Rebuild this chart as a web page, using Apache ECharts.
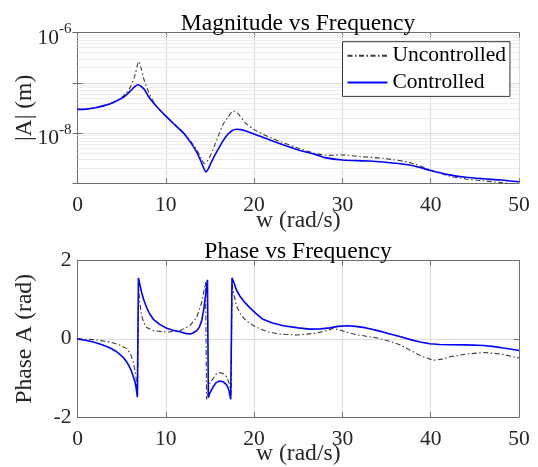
<!DOCTYPE html>
<html>
<head>
<meta charset="utf-8">
<script src="https://cdn.jsdelivr.net/npm/echarts@6/dist/echarts.min.js"></script>
<style>html,body{margin:0;padding:0;background:#fff;}#c{width:538px;height:467px;}</style>
</head>
<body>
<div id="c"></div>
<script>
// ---- data ----
const seriesNames = ['Uncontrolled', 'Controlled'];
const xTicks = [0, 10, 20, 30, 40, 50];
const magYTickLabels = ['10^-6', '10^-8'];
const phaseYTicks = [-2, 0, 2];

const magUncontrolled = [
  [0, 2.95e-8], [1, 2.99e-8], [2, 3.18e-8], [3, 3.51e-8], [4, 4.05e-8], [5, 5.1e-8],
  [5.5, 6.2e-8], [6, 8.3e-8], [6.5, 1.4e-7], [6.8, 2.3e-7], [6.95, 2.65e-7], [7.2, 1.95e-7],
  [7.5, 1.2e-7], [8, 6.9e-8], [8.5, 4.5e-8], [9, 3.35e-8], [10, 2.17e-8], [11, 1.48e-8],
  [12, 1.02e-8], [13, 6.2e-9], [13.5, 4.6e-9], [14, 3.2e-9], [14.33, 2.48e-9], [14.6, 2.6e-9],
  [15, 3.4e-9], [15.5, 5.5e-9], [16, 9.3e-9], [16.5, 1.5e-8], [17, 2.0e-8], [17.65, 2.75e-8],
  [18.2, 2.4e-8], [19, 1.6e-8], [20, 1.17e-8], [22, 7.9e-9], [25, 5.0e-9], [27, 3.9e-9],
  [28.5, 3.6e-9], [30, 3.66e-9], [32, 3.4e-9], [34.6, 3.14e-9], [37.7, 2.57e-9], [40, 1.83e-9],
  [42, 1.41e-9], [44, 1.22e-9], [46, 1.12e-9], [48, 1.03e-9], [50, 9.3e-10]
];
const magControlled = [
  [0, 2.95e-8], [1, 2.99e-8], [2, 3.18e-8], [3, 3.51e-8], [4, 4.02e-8], [5, 4.91e-8],
  [5.5, 5.69e-8], [6, 6.9e-8], [6.5, 8.41e-8], [6.85, 9.16e-8], [7.2, 8.51e-8], [7.6, 7.24e-8],
  [8, 5.47e-8], [8.5, 4.17e-8], [9, 3.29e-8], [10, 2.17e-8], [11, 1.47e-8], [12, 1.0e-8],
  [13, 5.82e-9], [13.5, 4.17e-9], [14, 2.69e-9], [14.3, 2.0e-9], [14.55, 1.69e-9], [14.8, 1.91e-9],
  [15, 2.29e-9], [15.5, 3.47e-9], [16, 5.01e-9], [16.5, 7.08e-9], [17, 9.33e-9], [17.5, 1.11e-8],
  [18, 1.19e-8], [18.5, 1.17e-8], [19, 1.11e-8], [20, 9.55e-9], [22, 7.01e-9], [25, 4.62e-9],
  [27, 3.72e-9], [28, 3.24e-9], [30, 2.91e-9], [33, 2.77e-9], [36, 2.51e-9], [38, 2.24e-9],
  [40, 1.8e-9], [42, 1.49e-9], [44, 1.32e-9], [46, 1.23e-9], [48, 1.16e-9], [50, 1.07e-9]
];
const phaseUncontrolled = [
  [0, 0], [1.8, -0.02], [3.7, -0.08], [4.8, -0.16], [5.57, -0.25], [6.0, -0.38], [6.3, -0.59],
  [6.5, -0.8], [6.6, -0.93], [6.72, -1.2], [6.8, -1.43], [6.92, 1.25], [7.05, 0.95], [7.27, 0.59],
  [7.5, 0.42], [7.83, 0.29], [8.6, 0.21], [10.1, 0.17], [11.6, 0.21], [12.74, 0.34], [13.5, 0.55],
  [14.06, 0.93], [14.3, 1.2], [14.5, 1.45], [14.62, -1.55], [14.8, -1.3], [15.0, -1.12],
  [15.38, -1.01], [15.7, -0.9], [16.1, -0.86], [16.5, -0.89], [16.9, -0.97], [17.2, -1.15],
  [17.4, -1.43], [17.5, 1.4], [17.7, 1.15], [18.0, 0.84], [18.5, 0.62], [19.1, 0.46], [20.0, 0.33],
  [20.7, 0.25], [21.7, 0.17], [23.0, 0.12], [24.8, 0.1], [26.0, 0.12], [27.1, 0.15], [28.2, 0.21],
  [29.0, 0.27], [29.8, 0.22], [30.5, 0.17], [31.5, 0.11], [32.7, 0.067], [34.0, 0.02],
  [35.4, -0.067], [36.5, -0.15], [37.7, -0.295], [39.0, -0.45], [40.3, -0.547], [41.3, -0.52],
  [42.2, -0.46], [44.0, -0.39], [46.0, -0.35], [47.2, -0.37], [48.2, -0.4], [49.2, -0.45], [50, -0.49]
];
const phaseControlled = [
  [0, 0], [1, -0.04], [1.8, -0.08], [2.8, -0.15], [3.7, -0.235], [4.3, -0.31], [4.8, -0.4],
  [5.2, -0.48], [5.57, -0.59], [5.9, -0.72], [6.13, -0.84], [6.35, -0.99], [6.5, -1.09],
  [6.65, -1.27], [6.78, -1.49], [6.9, 1.56], [7.0, 1.45], [7.27, 1.18], [7.5, 1.0], [7.83, 0.8],
  [8.2, 0.63], [8.59, 0.5], [9.3, 0.37], [10.1, 0.27], [10.8, 0.22], [11.6, 0.18], [12.2, 0.14],
  [12.74, 0.126], [13.1, 0.15], [13.5, 0.21], [13.8, 0.3], [14.06, 0.46], [14.3, 0.75], [14.44, 1.0],
  [14.6, 1.3], [14.72, 1.51], [14.82, -1.51], [14.95, -1.4], [15.38, -1.22], [15.7, -1.12],
  [16.1, -1.08], [16.5, -1.1], [16.9, -1.18], [17.15, -1.32], [17.35, -1.55], [17.5, 1.56],
  [17.7, 1.45], [18.0, 1.25], [18.4, 1.09], [19.0, 0.92], [19.5, 0.8], [20.2, 0.65], [21.0, 0.5],
  [22.0, 0.41], [23.3, 0.335], [25.0, 0.28], [26.3, 0.25], [27.5, 0.255], [28.6, 0.28], [29.5, 0.32],
  [30.5, 0.335], [31.5, 0.32], [32.7, 0.28], [34.0, 0.21], [35.4, 0.126], [36.5, 0.06], [37.7, -0.02],
  [38.8, -0.08], [39.9, -0.126], [41.0, -0.145], [42.2, -0.15], [44.0, -0.155], [46.0, -0.17],
  [47.2, -0.2], [48.2, -0.235], [49.0, -0.26], [50, -0.3]
];
const magMinorGrid = [
  2e-9, 3e-9, 4e-9, 5e-9, 6e-9, 7e-9, 8e-9, 9e-9,
  2e-8, 3e-8, 4e-8, 5e-8, 6e-8, 7e-8, 8e-8, 9e-8,
  2e-7, 3e-7, 4e-7, 5e-7, 6e-7, 7e-7, 8e-7, 9e-7
];

const FONT = "'Liberation Serif','Times New Roman',serif";
const TXT = '#262626';
const AX = '#6e6e6e';
const GRID = '#dcdcdc';
const MINOR = '#ececec';
const labelExps = magYTickLabels.map(s => parseInt(s.split('^')[1], 10));
const X0 = xTicks[0], X1 = xTicks[xTicks.length - 1];

function xAx(gi, pos, showLabels) {
  return {
    type: 'value', gridIndex: gi, position: pos, min: X0, max: X1,
    interval: xTicks[1] - xTicks[0],
    axisLine: { show: true, onZero: false, lineStyle: { color: AX, width: 1 } },
    axisTick: { show: true, inside: true, length: 5, lineStyle: { color: AX } },
    axisLabel: { show: showLabels, fontSize: 21.5, fontFamily: FONT, color: TXT, margin: 11 },
    splitLine: { show: showLabels, lineStyle: { color: GRID, width: 1 } },
    name: showLabels ? 'w (rad/s)' : '', nameLocation: 'middle', nameGap: 25, nameMoveOverlap: false,
    nameTextStyle: { fontSize: 23.6, fontFamily: FONT, color: TXT }
  };
}

const option = {
  animation: false,
  backgroundColor: '#fff',
  title: [
    { text: 'Magnitude vs Frequency', left: 298, top: 11.5, textAlign: 'center', padding: 0,
      textStyle: { fontSize: 23.6, fontFamily: FONT, fontWeight: 'normal', color: '#000' } },
    { text: 'Phase vs Frequency', left: 298, top: 239.5, textAlign: 'center', padding: 0,
      textStyle: { fontSize: 23.6, fontFamily: FONT, fontWeight: 'normal', color: '#000' } }
  ],
  legend: {
    data: seriesNames, orient: 'vertical', left: 342.5, top: 41.7,
    padding: [2, 4, 2, 4], itemGap: 2.7, itemWidth: 40, itemHeight: 14,
    backgroundColor: '#fff', borderColor: '#333', borderWidth: 1,
    itemStyle: { opacity: 0 },
    textStyle: { fontSize: 21.5, fontFamily: FONT, color: '#000', lineHeight: 24 }
  },
  grid: [
    { left: 77.5, top: 32.5, width: 441.5, height: 150.8 },
    { left: 77.5, top: 260.7, width: 441.5, height: 158.6 }
  ],
  xAxis: [
    xAx(0, 'bottom', true), xAx(0, 'top', false),
    xAx(1, 'bottom', true), xAx(1, 'top', false)
  ],
  yAxis: [
    {
      type: 'log', logBase: 10, gridIndex: 0, position: 'left', min: 1e-9, max: 1e-6,
      axisLine: { show: true, lineStyle: { color: AX } },
      axisTick: { show: true, inside: true, length: 5, lineStyle: { color: AX } },
      splitLine: { show: true, lineStyle: { color: GRID } },
      axisLabel: {
        show: true, margin: 6, showMinLabel: true, showMaxLabel: true,
        formatter: function (v) {
          const e = Math.round(Math.log10(v));
          return labelExps.indexOf(e) >= 0 ? '{b|10}{s|' + e + '}' : '';
        },
        rich: {
          b: { fontSize: 21.5, fontFamily: FONT, color: TXT, lineHeight: 21, padding: [11, 0, 0, 0] },
          s: { fontSize: 15, fontFamily: FONT, color: TXT, lineHeight: 15, padding: [0, 0, 6, 0] }
        }
      },
      name: '|A| (m)', nameLocation: 'middle', nameGap: 41, nameMoveOverlap: false,
      nameTextStyle: { fontSize: 23.6, fontFamily: FONT, color: TXT }
    },
    {
      type: 'log', logBase: 10, gridIndex: 0, position: 'right', min: 1e-9, max: 1e-6,
      axisLine: { show: true, lineStyle: { color: AX } },
      axisTick: { show: true, inside: true, length: 5, lineStyle: { color: AX } },
      splitLine: { show: false }, axisLabel: { show: false }
    },
    {
      type: 'value', gridIndex: 1, position: 'left', min: phaseYTicks[0], max: phaseYTicks[phaseYTicks.length - 1],
      interval: phaseYTicks[1] - phaseYTicks[0],
      axisLine: { show: true, onZero: false, lineStyle: { color: AX } },
      axisTick: { show: true, inside: true, length: 5, lineStyle: { color: AX } },
      splitLine: { show: true, lineStyle: { color: GRID } },
      axisLabel: { fontSize: 21.5, fontFamily: FONT, color: TXT, margin: 6 },
      name: 'Phase A (rad)', nameLocation: 'middle', nameGap: 41, nameMoveOverlap: false,
      nameTextStyle: { fontSize: 23.6, fontFamily: FONT, color: TXT }
    },
    {
      type: 'value', gridIndex: 1, position: 'right', min: phaseYTicks[0], max: phaseYTicks[phaseYTicks.length - 1],
      interval: phaseYTicks[1] - phaseYTicks[0],
      axisLine: { show: true, onZero: false, lineStyle: { color: AX } },
      axisTick: { show: true, inside: true, length: 5, lineStyle: { color: AX } },
      splitLine: { show: false }, axisLabel: { show: false }
    }
  ],
  series: [
    {
      type: 'lines', name: 'minorGrid', coordinateSystem: 'cartesian2d', xAxisIndex: 0, yAxisIndex: 0,
      silent: true, z: 1, polyline: false,
      lineStyle: { color: MINOR, width: 1, opacity: 1, curveness: 0 },
      data: magMinorGrid.map(v => ({ coords: [[X0, v], [X1, v]] }))
    },
    {
      type: 'line', name: seriesNames[0], xAxisIndex: 0, yAxisIndex: 0, data: magUncontrolled,
      symbol: 'none', smooth: 0.25, z: 3,
      lineStyle: { color: '#3a3a3a', width: 1.1, type: [5, 2.5, 1.5, 2.5] }, itemStyle: { color: '#3a3a3a' }
    },
    {
      type: 'line', name: seriesNames[1], xAxisIndex: 0, yAxisIndex: 0, data: magControlled,
      symbol: 'none', smooth: 0.25, z: 4,
      lineStyle: { color: '#0000ff', width: 1.6 }, itemStyle: { color: '#0000ff' }
    },
    {
      type: 'line', name: seriesNames[0], xAxisIndex: 2, yAxisIndex: 2, data: phaseUncontrolled,
      symbol: 'none', z: 3,
      lineStyle: { color: '#3a3a3a', width: 1.1, type: [5, 2.5, 1.5, 2.5] }, itemStyle: { color: '#3a3a3a' }
    },
    {
      type: 'line', name: seriesNames[1], xAxisIndex: 2, yAxisIndex: 2, data: phaseControlled,
      symbol: 'none', z: 4,
      lineStyle: { color: '#0000ff', width: 1.6 }, itemStyle: { color: '#0000ff' }
    }
  ]
};

const chart = echarts.init(document.getElementById('c'), null, { renderer: 'canvas' });
chart.setOption(option);
</script>
</body>
</html>
